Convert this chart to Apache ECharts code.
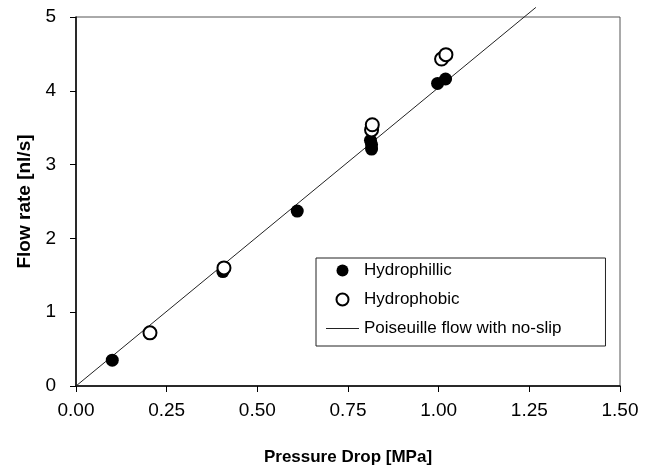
<!DOCTYPE html>
<html>
<head>
<meta charset="utf-8">
<script src="https://cdn.jsdelivr.net/npm/echarts@6/dist/echarts.min.js"></script>
<style>
  html, body { margin: 0; padding: 0; background: #fff; }
  #chart { width: 650px; height: 471px; }
</style>
</head>
<body>
<div id="chart"></div>
<script>
// values
const philicP = [0.10, 0.405, 0.61, 0.812, 0.815, 0.815, 0.997, 1.019];
const philicF = [0.35, 1.55, 2.37, 3.33, 3.27, 3.21, 4.10, 4.16];
const phobicP = [0.204, 0.408, 0.815, 0.817, 1.008, 1.02];
const phobicF = [0.72, 1.60, 3.47, 3.54, 4.43, 4.49];
const lineP = [0, 1.268];
const lineF = [0, 5.13];
const xTicks = ['0.00', '0.25', '0.50', '0.75', '1.00', '1.25', '1.50'];

const zip = (a, b) => a.map((v, i) => [v, b[i]]);
const font = 'Liberation Sans, Arial, sans-serif';

const chart = echarts.init(document.getElementById('chart'));
chart.setOption({
  animation: false,
  grid: {
    left: 76, right: 30, top: 17, bottom: 85,
    show: true, borderColor: '#555', borderWidth: 1
  },
  legend: {
    orient: 'vertical',
    left: 316, top: 258,
    padding: [4, 44, 9, 10],
    itemWidth: 33, itemHeight: 12, itemGap: 12,
    backgroundColor: '#fff',
    borderColor: '#222', borderWidth: 1,
    textStyle: { fontFamily: font, fontSize: 17, color: '#000' },
    data: [
      { name: 'Hydrophillic', icon: 'circle', itemStyle: { color: '#000', borderWidth: 0 } },
      { name: 'Hydrophobic', icon: 'circle', itemStyle: { color: '#fff', borderColor: '#000', borderWidth: 2 } },
      { name: 'Poiseuille flow with no-slip', icon: 'path://M0,0H40V1H0Z',
        itemStyle: { color: '#222', borderWidth: 0 } }
    ]
  },
  xAxis: {
    type: 'value', min: 0, max: 1.5, interval: 0.25,
    name: 'Pressure Drop [MPa]', nameLocation: 'middle', nameGap: 63,
    nameTextStyle: { fontFamily: font, fontSize: 17, fontWeight: 'bold', color: '#000' },
    axisLine: { lineStyle: { color: '#000', width: 1.5 } },
    axisTick: { length: 6, lineStyle: { color: '#000' } },
    axisLabel: {
      fontFamily: font, fontSize: 19, color: '#000', margin: 15,
      formatter: v => xTicks[Math.round(v / 0.25)]
    },
    splitLine: { show: false }
  },
  yAxis: {
    type: 'value', min: 0, max: 5, interval: 1,
    name: 'Flow rate [nl/s]', nameLocation: 'middle', nameGap: 42,
    nameTextStyle: { fontFamily: font, fontSize: 19, fontWeight: 'bold', color: '#000' },
    axisLine: { lineStyle: { color: '#000', width: 1.5 } },
    axisTick: { length: 6, lineStyle: { color: '#000' } },
    axisLabel: { fontFamily: font, fontSize: 19, color: '#000', margin: 20 },
    splitLine: { show: false }
  },
  series: [
    {
      name: 'Poiseuille flow with no-slip', type: 'line',
      data: zip(lineP, lineF), symbol: 'none', clip: false, z: 1,
      lineStyle: { color: '#222', width: 1 }, itemStyle: { color: '#222' }
    },
    {
      name: 'Hydrophillic', type: 'scatter', data: zip(philicP, philicF),
      symbol: 'circle', symbolSize: 13, z: 2,
      itemStyle: { color: '#000', opacity: 1 }
    },
    {
      name: 'Hydrophobic', type: 'scatter', data: zip(phobicP, phobicF),
      symbol: 'circle', symbolSize: 13, z: 3,
      itemStyle: { color: '#fff', borderColor: '#000', borderWidth: 2, opacity: 1 }
    }
  ]
});
</script>
</body>
</html>
